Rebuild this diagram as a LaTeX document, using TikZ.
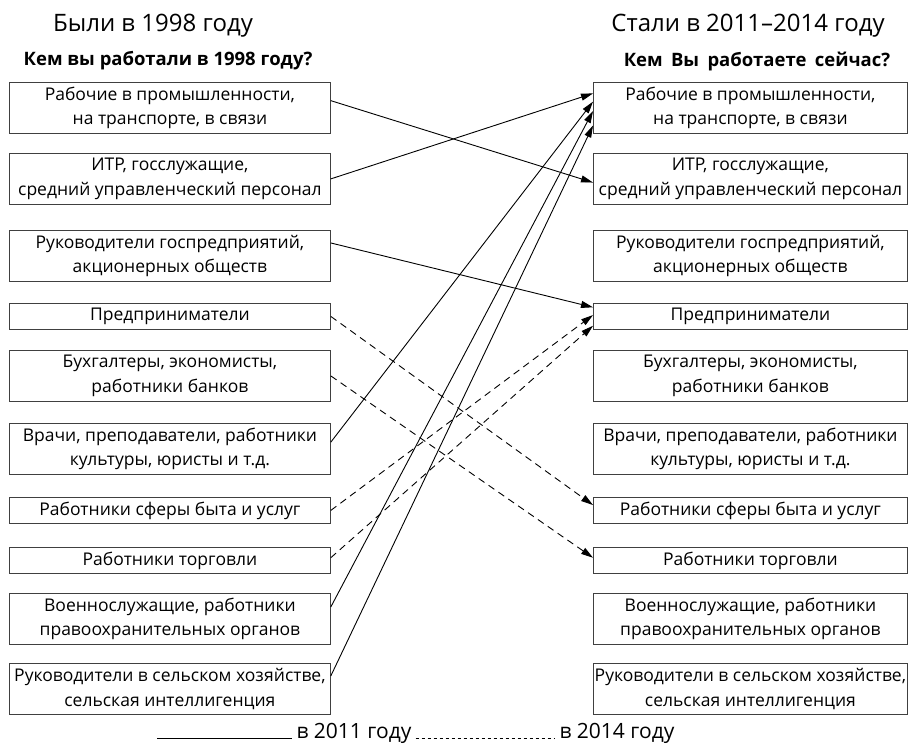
\documentclass[tikz,border=0pt]{standalone}
\usepackage{fontspec}
\setmainfont{Open Sans}
\usepackage{tikz}
\usetikzlibrary{calc,arrows.meta}
\def\LWidth{321pt}
\def\RWidth{314pt}

\begin{document}
\begin{tikzpicture}[x=1pt,y=-1pt,
	box/.style={draw=black!75,line width=0.8pt,align=center,inner sep=0pt,
		font=\fontsize{17.5}{24.5}\selectfont,anchor=north west},
	lbox/.style={box,minimum width=\LWidth},
	rbox/.style={box,minimum width=\RWidth},
	tall/.style={minimum height=51pt},
	low/.style={minimum height=26pt},
	head/.style={font=\fontsize{24}{28}\selectfont},
	quest/.style={font=\bfseries\fontsize{18.5}{22}\selectfont},
	y11/.style={line width=0.9pt,-{Triangle[length=12pt,width=7pt]}},
	y14/.style={y11,dash pattern=on 7pt off 5pt}]
	\useasboundingbox (0,0) rectangle (910,747);
	% headers
	\node[head] (hl) at (153,26) {Были в 1998 году};
	\node[quest] (ql) at (168,61) {Кем вы работали в 1998 году?};
	\node[head] (hr) at (748,26) {Стали в 2011\textendash2014 году};
	\node[quest] (qr) at (757,61) {\spaceskip=0.45em\relax Кем Вы работаете сейчас?};
	% left column
	\node[lbox,tall] (l1) at (9,82) {Рабочие в промышленности,\\на транспорте, в связи};
	\node[lbox,tall] (l2) at (9,153) {ИТР, госслужащие,\\средний управленческий персонал};
	\node[lbox,tall] (l3) at (9,230) {Руководители госпредприятий,\\акционерных обществ};
	\node[lbox,low] (l4) at (9,303) {Предприниматели};
	\node[lbox,tall] (l5) at (9,350) {Бухгалтеры, экономисты,\\работники банков};
	\node[lbox,tall] (l6) at (9,423) {Врачи, преподаватели, работники\\культуры, юристы и т.д.};
	\node[lbox,low] (l7) at (9,497) {Работники сферы быта и услуг};
	\node[lbox,low] (l8) at (9,547) {Работники торговли};
	\node[lbox,tall] (l9) at (9,593) {Военнослужащие, работники\\правоохранительных органов};
	\node[lbox,tall] (l10) at (9,663) {Руководители в сельском хозяйстве,\\сельская интеллигенция};
	% right column
	\node[rbox,tall] (r1) at (593,82) {Рабочие в промышленности,\\на транспорте, в связи};
	\node[rbox,tall] (r2) at (593,153) {ИТР, госслужащие,\\средний управленческий персонал};
	\node[rbox,tall] (r3) at (593,230) {Руководители госпредприятий,\\акционерных обществ};
	\node[rbox,low] (r4) at (593,303) {Предприниматели};
	\node[rbox,tall] (r5) at (593,350) {Бухгалтеры, экономисты,\\работники банков};
	\node[rbox,tall] (r6) at (593,423) {Врачи, преподаватели, работники\\культуры, юристы и т.д.};
	\node[rbox,low] (r7) at (593,497) {Работники сферы быта и услуг};
	\node[rbox,low] (r8) at (593,547) {Работники торговли};
	\node[rbox,tall] (r9) at (593,593) {Военнослужащие, работники\\правоохранительных органов};
	\node[rbox,tall] (r10) at (593,663) {Руководители в сельском хозяйстве,\\сельская интеллигенция};
	% 
	\coordinate (l1o) at ($(l1.north east)!0.36!(l1.south east)$);
	\coordinate (l2o) at ($(l2.north east)!0.5!(l2.south east)$);
	\coordinate (l3o) at ($(l3.north east)!0.25!(l3.south east)$);
	\coordinate (l4o) at ($(l4.north east)!0.5!(l4.south east)$);
	\coordinate (l5o) at ($(l5.north east)!0.5!(l5.south east)$);
	\coordinate (l6o) at ($(l6.north east)!0.37!(l6.south east)$);
	\coordinate (l7o) at ($(l7.north east)!0.5!(l7.south east)$);
	\coordinate (l8o) at ($(l8.north east)!0.4!(l8.south east)$);
	\coordinate (l9o) at ($(l9.north east)!0.27!(l9.south east)$);
	\coordinate (l10o) at ($(l10.north east)!0.25!(l10.south east)$);
	% 
	\coordinate (r1a) at ($(r1.north west)!0.22!(r1.south west)$);
	\coordinate (r1b) at ($(r1.north west)!0.38!(r1.south west)$);
	\coordinate (r1c) at ($(r1.north west)!0.56!(r1.south west)$);
	\coordinate (r1d) at ($(r1.north west)!0.84!(r1.south west)$);
	\coordinate (r2a) at ($(r2.north west)!0.57!(r2.south west)$);
	\coordinate (r4a) at ($(r4.north west)!0.16!(r4.south west)$);
	\coordinate (r4b) at ($(r4.north west)!0.45!(r4.south west)$);
	\coordinate (r4c) at ($(r4.north west)!0.85!(r4.south west)$);
	\coordinate (r7a) at ($(r7.north west)!0.3!(r7.south west)$);
	\coordinate (r8a) at ($(r8.north west)!0.4!(r8.south west)$);
	% 2011
	\draw[y11] (l1o) -- (r2a);
	\draw[y11] (l2o) -- (r1a);
	\draw[y11] (l3o) -- (r4a);
	\draw[y11] (l6o) -- (r1b);
	\draw[y11] (l9o) -- (r1c);
	\draw[y11] (l10o) -- (r1d);
	% 2014
	\draw[y14] (l4o) -- (r7a);
	\draw[y14] (l5o) -- (r8a);
	\draw[y14] (l7o) -- (r4b);
	\draw[y14] (l8o) -- (r4c);
	% legend
	\node[font=\fontsize{21}{24}\selectfont,inner sep=4pt] (t11) at (354,733) {в 2011 году};
	\node[font=\fontsize{21}{24}\selectfont,inner sep=4pt] (t14) at (617,733) {в 2014 году};
	\coordinate (s11) at (157,0 |- t11.base);
	\draw[line width=0.8pt] (s11) -- (t11.base west);
	\draw[line width=0.8pt,dash pattern=on 3pt off 3pt] (t11.base east) -- (t14.base west);
\end{tikzpicture}
\end{document}
